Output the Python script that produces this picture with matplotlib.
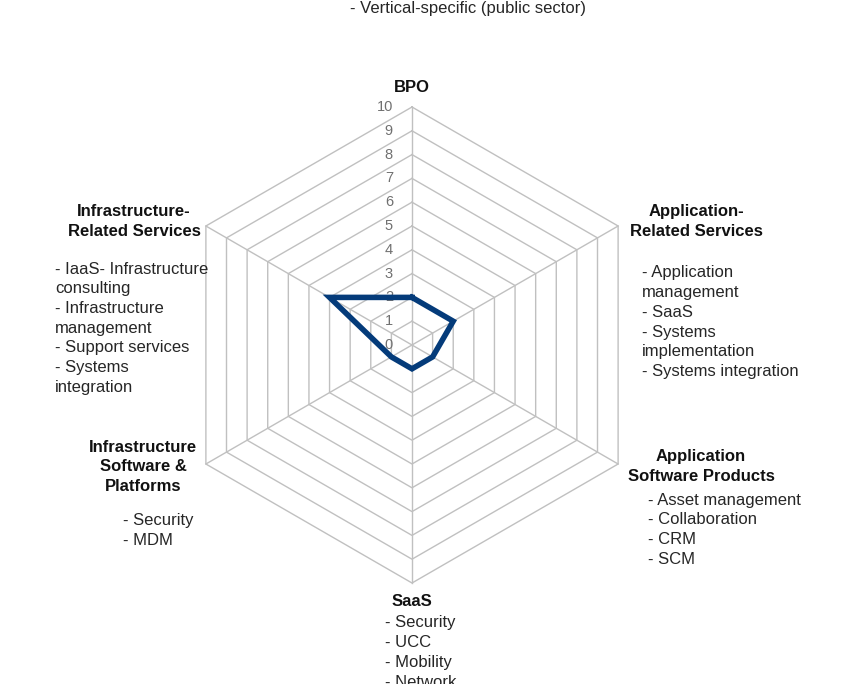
import numpy as np
import matplotlib
matplotlib.use("Agg")
import matplotlib.pyplot as plt

plt.rcParams["font.family"] = ["Liberation Sans", "DejaVu Sans"]

# categories clockwise from the top
categories = ["BPO", "Application-Related Services", "Application Software Products",
              "SaaS", "Infrastructure Software & Platforms", "Infrastructure-Related Services"]
values = [2, 2, 1, 1, 1, 4]
ticks = list(range(0, 11))
angles_deg = [90, 30, -30, -90, -150, 150]

# label text (title lines, bullet lines)
label_titles = [
    ["BPO"],
    ["Application-", "Related Services"],
    ["Application", "Software Products"],
    ["SaaS"],
    ["Infrastructure", "Software &", "Platforms"],
    ["Infrastructure-", "Related Services"],
]
label_items = [
    ["- Vertical-specific (public sector)"],
    ["- Application", "management", "- SaaS", "- Systems", "implementation", "- Systems integration"],
    ["- Asset management", "- Collaboration", "- CRM", "- SCM"],
    ["- Security", "- UCC", "- Mobility", "- Network"],
    ["- Security", "- MDM"],
    ["- IaaS- Infrastructure", "consulting", "- Infrastructure", "management",
     "- Support services", "- Systems", "integration"],
]

W, H = 845, 684
fig = plt.figure(figsize=(W / 100, H / 100), dpi=100)
ax = fig.add_axes([0, 0, 1, 1])
cx, cy, unit = 412, 345, 23.8
ax.set_xlim(-cx / unit, (W - cx) / unit)
ax.set_ylim(-(H - cy) / unit, cy / unit)
ax.axis("off")

ang = np.radians(angles_deg)
grid_col = "#c0c0c0"

# hexagonal rings
for t in ticks[1:]:
    xs = np.append(t * np.cos(ang), t * np.cos(ang[0]))
    ys = np.append(t * np.sin(ang), t * np.sin(ang[0]))
    ax.plot(xs, ys, color=grid_col, lw=1, zorder=1)
# spokes
for a in ang:
    ax.plot([0, 10 * np.cos(a)], [0, 10 * np.sin(a)], color=grid_col, lw=1, zorder=1)

# tick labels on the vertical axis
for t in ticks:
    ax.text(-0.8, t, str(t), ha="right", va="center", fontsize=10.5, color="#707070")

# data series
v = np.array(values, dtype=float)
xs = np.append(v * np.cos(ang), v[0] * np.cos(ang[0]))
ys = np.append(v * np.sin(ang), v[0] * np.sin(ang[0]))
ax.plot(xs, ys, color="#043b7a", lw=4, solid_joinstyle="miter", zorder=3)

# label layout in pixels: (title centre x, first title y, items left x, first item y)
layout = [
    (412, 88, 468, 8),
    (696, 212, 642, 273),
    (701, 457, 648, 500),
    (412, 602, 385, 623),
    (143, 447, 123, 521),
    (134, 212, 55, 269),
]
step = 19.7
fs = 12

def fx(px):
    return px / W

def fy(py):
    return 1 - py / H

for titles, items, (tx, ty, ix, iy), k in zip(label_titles, label_items, layout, range(6)):
    for j, line in enumerate(titles):
        fig.text(fx(tx), fy(ty + j * step), line, ha="center", va="center",
                 fontsize=fs, fontweight="bold", color="#111111")
    for j, line in enumerate(items):
        if k == 0:
            fig.text(fx(ix), fy(iy + j * step), line, ha="center", va="center",
                     fontsize=fs, color="#262626")
        else:
            fig.text(fx(ix), fy(iy + j * step), line, ha="left", va="center",
                     fontsize=fs, color="#262626")

fig.savefig("out.png", dpi=100)
